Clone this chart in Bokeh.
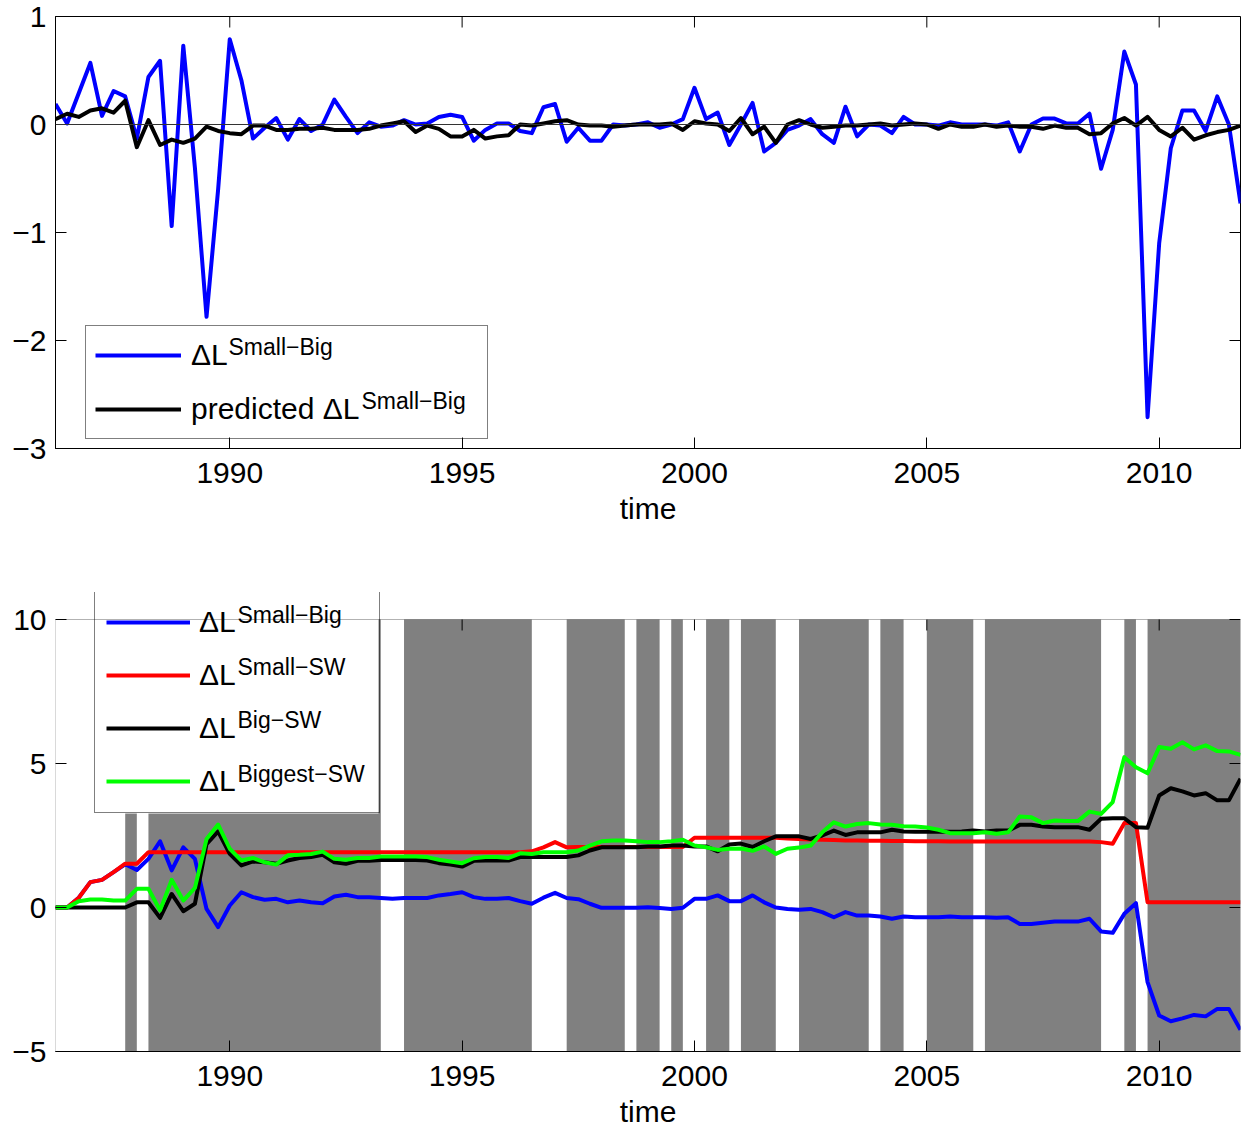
import numpy as np
from bokeh.plotting import figure
from bokeh.models import (Range1d, FixedTicker, Legend, LegendItem,
                          Span, ColumnDataSource, BoxAnnotation)
from bokeh.core.properties import value
from bokeh.layouts import column
from bokeh.embed import file_html
from bokeh.resources import INLINE

# ---------------- data (quarterly, 1986Q2 .. 2011Q4) ----------------
t_start = 1986.25
t_end = 2011.75

dL_small_big = [
    0.19, 0.01, 0.29,
    0.57, 0.08, 0.31, 0.26,
    -0.13, 0.44, 0.59, -0.94,
    0.73, -0.40, -1.78, -0.60,
    0.79, 0.41, -0.13, -0.03,
    0.06, -0.14, 0.05, -0.06,
    0.00, 0.23, 0.07, -0.08,
    0.02, -0.02, -0.01, 0.04,
    0.00, 0.01, 0.07, 0.09,
    0.07, -0.15, -0.05, 0.01,
    0.01, -0.06, -0.08, 0.16,
    0.19, -0.16, -0.03, -0.15,
    -0.15, 0.00, -0.01, 0.00,
    0.02, -0.03, 0.00, 0.05,
    0.34, 0.05, 0.11, -0.19,
    0.00, 0.20, -0.25, -0.17,
    -0.05, -0.01, 0.05, -0.09,
    -0.17, 0.165, -0.11, 0.00,
    -0.01, -0.08, 0.07, 0.00,
    0.00, -0.01, 0.02, 0.00,
    0.00, 0.00, -0.01, 0.02,
    -0.25, 0.00, 0.055, 0.055,
    0.01, 0.01, 0.10, -0.41,
    -0.05, 0.675, 0.37, -2.71,
    -1.10, -0.22, 0.13, 0.13,
    -0.06, 0.26, 0.00, -0.73,
]

dL_predicted = [
    0.05, 0.10, 0.07,
    0.13, 0.15, 0.11, 0.22,
    -0.21, 0.04, -0.19, -0.14,
    -0.17, -0.13, -0.02, -0.06,
    -0.08, -0.09, -0.01, -0.01,
    -0.05, -0.05, -0.04, -0.04,
    -0.03, -0.05, -0.05, -0.05,
    -0.04, -0.01, 0.01, 0.03,
    -0.07, -0.01, -0.04, -0.11,
    -0.11, -0.05, -0.13, -0.11,
    -0.10, 0.00, -0.01, 0.01,
    0.03, 0.04, 0.00, -0.01,
    -0.01, -0.02, -0.01, 0.00,
    0.00, 0.00, 0.01, -0.05,
    0.03, 0.01, 0.00, -0.06,
    0.06, -0.09, -0.02, -0.17,
    0.00, 0.04, 0.00, -0.03,
    -0.02, -0.01, -0.01, 0.00,
    0.01, -0.01, 0.00, 0.01,
    0.00, -0.04, 0.00, -0.02,
    -0.02, 0.00, -0.02, -0.01,
    -0.02, -0.02, -0.04, -0.01,
    -0.03, -0.03, -0.09, -0.08,
    0.01, 0.06, -0.01, 0.07,
    -0.05, -0.11, -0.03, -0.14,
    -0.10, -0.07, -0.05, -0.01,
]

L_small_big = [
    0.00, 0.00, 0.34,
    0.88, 0.96, 1.23, 1.50,
    1.30, 1.69, 2.30, 1.29,
    2.09, 1.69, -0.05, -0.68,
    0.07, 0.53, 0.36, 0.27,
    0.30, 0.18, 0.24, 0.18,
    0.15, 0.38, 0.44, 0.36,
    0.36, 0.33, 0.30, 0.33,
    0.33, 0.33, 0.42, 0.47,
    0.53, 0.36, 0.30, 0.30,
    0.33, 0.22, 0.13, 0.34,
    0.51, 0.33, 0.29, 0.13,
    -0.01, -0.01, -0.01, -0.01,
    0.01, -0.02, -0.05, -0.01,
    0.30, 0.30, 0.42, 0.22,
    0.22, 0.42, 0.18, 0.00,
    -0.05, -0.08, -0.05, -0.16,
    -0.34, -0.16, -0.28, -0.28,
    -0.31, -0.39, -0.31, -0.34,
    -0.34, -0.34, -0.31, -0.34,
    -0.34, -0.34, -0.36, -0.34,
    -0.57, -0.57, -0.53, -0.49,
    -0.49, -0.49, -0.39, -0.83,
    -0.88, -0.22, 0.15, -2.59,
    -3.75, -3.95, -3.85, -3.73,
    -3.78, -3.52, -3.52, -4.25,
]

L_small_sw = [
    0.00, 0.00, 0.34,
    0.88, 0.96, 1.23, 1.52,
    1.52, 1.92, 1.92, 1.92,
    1.92, 1.92, 1.92, 1.92,
    1.92, 1.92, 1.92, 1.92,
    1.92, 1.92, 1.92, 1.92,
    1.92, 1.92, 1.92, 1.92,
    1.92, 1.92, 1.92, 1.92,
    1.92, 1.92, 1.92, 1.92,
    1.92, 1.92, 1.92, 1.92,
    1.92, 1.92, 1.95, 2.09,
    2.27, 2.09, 2.10, 2.10,
    2.10, 2.10, 2.10, 2.10,
    2.10, 2.10, 2.10, 2.10,
    2.42, 2.42, 2.42, 2.42,
    2.42, 2.42, 2.42, 2.42,
    2.40, 2.38, 2.36, 2.35,
    2.34, 2.33, 2.33, 2.32,
    2.32, 2.31, 2.31, 2.30,
    2.30, 2.30, 2.29, 2.29,
    2.29, 2.29, 2.29, 2.29,
    2.29, 2.29, 2.29, 2.29,
    2.29, 2.29, 2.29, 2.27,
    2.21, 2.93, 2.93, 0.18,
    0.18, 0.18, 0.18, 0.18,
    0.18, 0.18, 0.18, 0.18,
]

L_big_sw = [
    0.00, 0.00, 0.00,
    0.00, 0.00, 0.00, 0.00,
    0.18, 0.18, -0.36, 0.47,
    -0.13, 0.13, 2.20, 2.64,
    1.86, 1.46, 1.60, 1.57,
    1.52, 1.63, 1.72, 1.75,
    1.83, 1.57, 1.52, 1.62,
    1.62, 1.65, 1.65, 1.65,
    1.65, 1.63, 1.54, 1.49,
    1.42, 1.62, 1.63, 1.63,
    1.63, 1.75, 1.75, 1.75,
    1.75, 1.75, 1.81, 1.98,
    2.09, 2.09, 2.09, 2.09,
    2.12, 2.12, 2.15, 2.15,
    2.12, 2.12, 1.95, 2.19,
    2.22, 2.10, 2.30, 2.47,
    2.47, 2.47, 2.38, 2.50,
    2.67, 2.52, 2.61, 2.61,
    2.61, 2.70, 2.64, 2.63,
    2.63, 2.64, 2.63, 2.64,
    2.67, 2.64, 2.67, 2.67,
    2.87, 2.87, 2.81, 2.79,
    2.79, 2.79, 2.70, 3.08,
    3.10, 3.10, 2.79, 2.77,
    3.89, 4.14, 4.03, 3.89,
    3.97, 3.72, 3.72, 4.47,
]

L_biggest_sw = [
    0.00, 0.00, 0.22,
    0.28, 0.28, 0.24, 0.24,
    0.65, 0.65, -0.10, 0.96,
    0.24, 0.68, 2.38, 2.88,
    2.04, 1.63, 1.72, 1.57,
    1.49, 1.81, 1.83, 1.86,
    1.94, 1.69, 1.66, 1.72,
    1.72, 1.77, 1.77, 1.77,
    1.77, 1.75, 1.66, 1.60,
    1.54, 1.71, 1.75, 1.75,
    1.72, 1.88, 1.86, 1.92,
    1.92, 1.92, 1.98, 2.15,
    2.30, 2.33, 2.33, 2.30,
    2.27, 2.27, 2.30, 2.35,
    2.15, 2.09, 2.00, 2.04,
    2.05, 1.97, 2.12, 1.86,
    2.04, 2.08, 2.15, 2.61,
    2.96, 2.81, 2.90, 2.93,
    2.88, 2.87, 2.82, 2.81,
    2.78, 2.70, 2.58, 2.58,
    2.58, 2.61, 2.56, 2.61,
    3.16, 3.13, 2.93, 3.02,
    3.00, 3.00, 3.33, 3.25,
    3.66, 5.22, 4.87, 4.66,
    5.57, 5.51, 5.74, 5.49,
    5.63, 5.43, 5.42, 5.30,
]

# shaded periods (grey bands) in the lower panel
band_start = [1987.75, 1988.25, 1993.75, 1997.25, 1998.75, 1999.5, 2000.25,
              2001.0, 2002.25, 2004.0, 2005.0, 2006.25, 2009.25, 2009.75]
band_end = [1988.0, 1993.25, 1996.5, 1998.5, 1999.25, 1999.75, 2000.75,
            2001.75, 2003.75, 2004.5, 2006.0, 2008.75, 2009.5, 2011.75]

x_ticks = [1990, 1995, 2000, 2005, 2010]
top_y_ticks = [-3, -2, -1, 0, 1]
bot_y_ticks = [-5, 0, 5, 10]
top_y_range = (-3, 1)
bot_y_range = (-5, 10)
top_legend_labels = ["\u0394L", "predicted \u0394L"]
top_legend_sups = ["Small\u2212Big", "Small\u2212Big"]
bot_legend_labels = ["\u0394L", "\u0394L", "\u0394L", "\u0394L"]
bot_legend_sups = ["Small\u2212Big", "Small\u2212SW", "Big\u2212SW", "Biggest\u2212SW"]

n = len(dL_small_big)
for name, arr in [("pred", dL_predicted), ("Lsb", L_small_big), ("Lssw", L_small_sw),
                  ("Lbsw", L_big_sw), ("Lbgsw", L_biggest_sw)]:
    assert len(arr) == n, (name, len(arr), n)
time = t_start + 0.25 * np.arange(n)

# ---------------- styling / layout constants (pixels) ----------------
FONT = "Liberation Sans"
TICK_FS = "30px"
LEG_FS = "30px"
SUP_FS = "23px"
FW, FH = 1185, 432
TICK_LEN = 11
EXTRA_TOP = 27          # lower panel: room above the axes box for the legend

# legend geometry (pixels from the frame's bottom-left corner)
TOP_LEG = dict(x=30, y=9, padding=9, spacing=14, glyph_width=86, item_h=40,
               label_width=287, standoff=10, n=2)
BOT_LEG = dict(x=39, y=238, padding=11, spacing=13, glyph_width=84, item_h=40,
               label_width=169, standoff=9, n=4)
# left-middle of each superscript text (pixels from the frame's bottom-left corner)
TOP_SUP_POS = [(173, 102), (306, 48)]
BOT_SUP_POS = [(182, 437), (182, 385), (182, 332), (182, 278)]


def fmt_minus(v):
    return ("\u2212" + str(abs(v))) if v < 0 else str(v)


def style_axes(p, yticks):
    p.grid.visible = False
    p.background_fill_color = "white"
    p.border_fill_color = "white"
    for ax in p.xaxis:
        ax.ticker = FixedTicker(ticks=x_ticks)
        ax.major_label_overrides = {v: str(v) for v in x_ticks}
    for ax in p.yaxis:
        ax.ticker = FixedTicker(ticks=yticks)
        ax.major_label_overrides = {v: fmt_minus(v) for v in yticks}
    for ax in p.axis:
        ax.major_tick_in = TICK_LEN
        ax.major_tick_out = 0
        ax.minor_tick_line_color = None
        ax.axis_line_color = "black"
        ax.major_tick_line_color = "black"
        ax.major_label_text_font = FONT
        ax.major_label_text_font_size = TICK_FS
        ax.major_label_text_color = "black"
        ax.axis_label_text_font = FONT
        ax.axis_label_text_font_size = TICK_FS
        ax.axis_label_text_font_style = "normal"
        ax.axis_label_text_color = "black"
    p.xaxis.major_label_standoff = 14
    p.yaxis.major_label_standoff = 9
    p.xaxis.axis_label = "time"
    p.xaxis.axis_label_standoff = 6


def mirror_ticks(p, yticks, y_lo, y_hi, ppu):
    """inward tick marks on the top and right edges of the axes box"""
    dy = TICK_LEN / ppu
    dx = TICK_LEN * (t_end - t_start) / FW
    p.segment(x0=x_ticks, x1=x_ticks, y0=[y_hi] * len(x_ticks), y1=[y_hi - dy] * len(x_ticks),
              line_color="black", line_width=1)
    p.segment(x0=[t_end] * len(yticks), x1=[t_end - dx] * len(yticks), y0=yticks, y1=yticks,
              line_color="black", line_width=1)


def px_to_data(sx, sy, y0, ppu):
    return t_start + sx * (t_end - t_start) / FW, y0 + sy / ppu


def add_legend(p, renderers, labels, sups, sup_pos, g, y0, ppu):
    # white box drawn as a glyph so the superscript texts can sit on top of it
    w = 2 * g["padding"] + g["glyph_width"] + g["standoff"] + g["label_width"]
    h = 2 * g["padding"] + g["n"] * g["item_h"] + (g["n"] - 1) * g["spacing"]
    x0d, y0d = px_to_data(g["x"], g["y"], y0, ppu)
    x1d, y1d = px_to_data(g["x"] + w, g["y"] + h, y0, ppu)
    p.quad(left=[x0d], right=[x1d], bottom=[y0d], top=[y1d], fill_color="white",
           line_color=None)
    xs, ys = zip(*[px_to_data(sx, sy, y0, ppu) for sx, sy in sup_pos])
    p.text(x=list(xs), y=list(ys), text=sups, text_font=value(FONT),
           text_font_size=value(SUP_FS), text_color="black",
           text_baseline="middle", text_align="left")
    leg = Legend(items=[LegendItem(label=lab, renderers=[r]) for lab, r in zip(labels, renderers)],
                 location=(g["x"], g["y"]), margin=0, padding=g["padding"],
                 spacing=g["spacing"], glyph_width=g["glyph_width"], glyph_height=g["item_h"],
                 label_height=g["item_h"], label_width=g["label_width"],
                 label_standoff=g["standoff"], label_text_font=FONT,
                 label_text_font_size=LEG_FS, label_text_color="black",
                 border_line_color="black", border_line_width=1,
                 background_fill_color=None, background_fill_alpha=0.0)
    p.add_layout(leg)


src = ColumnDataSource(dict(t=time, dsb=dL_small_big, pred=dL_predicted,
                            lsb=L_small_big, lssw=L_small_sw, lbsw=L_big_sw, lbgsw=L_biggest_sw))

# ---------------- top panel ----------------
top_ppu = FH / (top_y_range[1] - top_y_range[0])
p1 = figure(frame_width=FW, frame_height=FH, x_range=Range1d(t_start, t_end),
            y_range=Range1d(*top_y_range), output_backend="svg", toolbar_location=None,
            min_border_left=55, min_border_right=1, min_border_top=16, min_border_bottom=111)
style_axes(p1, top_y_ticks)
p1.outline_line_color = "black"
p1.outline_line_width = 1
mirror_ticks(p1, top_y_ticks, top_y_range[0], top_y_range[1], top_ppu)
p1.add_layout(Span(location=0, dimension="width", line_color="#333333", line_width=1))
r_b = p1.line("t", "dsb", source=src, line_color="#0000FF", line_width=4, line_join="round")
r_k = p1.line("t", "pred", source=src, line_color="black", line_width=4, line_join="round")
add_legend(p1, [r_b, r_k], top_legend_labels, top_legend_sups, TOP_SUP_POS, TOP_LEG,
           top_y_range[0], top_ppu)

# ---------------- bottom panel ----------------
px_per_unit = FH / (bot_y_range[1] - bot_y_range[0])
y_top_ext = bot_y_range[1] + EXTRA_TOP / px_per_unit
p2 = figure(frame_width=FW, frame_height=FH + EXTRA_TOP, x_range=Range1d(t_start, t_end),
            y_range=Range1d(bot_y_range[0], y_top_ext), output_backend="svg",
            toolbar_location=None, min_border_left=55, min_border_right=1,
            min_border_top=33, min_border_bottom=80)
style_axes(p2, bot_y_ticks)
p2.outline_line_color = None
p2.yaxis.axis_line_color = None

p2.quad(left=band_start, right=band_end, bottom=bot_y_range[0], top=bot_y_range[1],
        fill_color="#808080", line_color=None)
r1 = p2.line("t", "lsb", source=src, line_color="#0000FF", line_width=4, line_join="round")
r2 = p2.line("t", "lssw", source=src, line_color="#FF0000", line_width=4, line_join="round")
r3 = p2.line("t", "lbsw", source=src, line_color="black", line_width=4, line_join="round")
r4 = p2.line("t", "lbgsw", source=src, line_color="#00FF00", line_width=4, line_join="round")

# axes box and mirrored ticks of the lower panel
p2.add_layout(BoxAnnotation(left=t_start, right=t_end, bottom=bot_y_range[0], top=bot_y_range[1],
                            fill_color=None, line_color="black", line_width=1))
mirror_ticks(p2, bot_y_ticks, bot_y_range[0], bot_y_range[1], px_per_unit)

add_legend(p2, [r1, r2, r3, r4], bot_legend_labels, bot_legend_sups, BOT_SUP_POS, BOT_LEG,
           bot_y_range[0], px_per_unit)

layout = column(p1, p2, spacing=0)
open("out.html", "w").write(file_html(layout, INLINE))
